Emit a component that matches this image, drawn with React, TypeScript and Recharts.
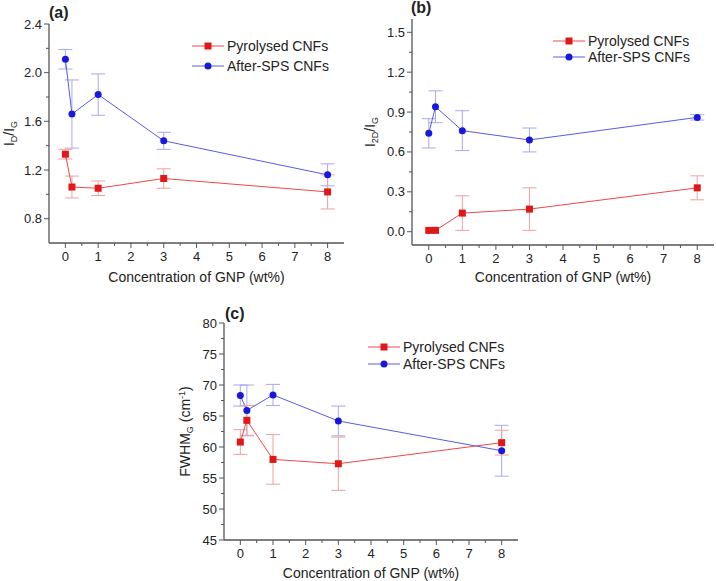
import React from 'react';
import { LineChart, Line, XAxis, YAxis, ErrorBar, Legend } from 'recharts';

const gnp = [0, 0.2, 1, 3, 8];

// (a) ID/IG
const idPyro = [1.33, 1.06, 1.05, 1.13, 1.02];
const idPyroErr = [0.04, 0.09, 0.06, 0.08, 0.14];
const idSps = [2.11, 1.66, 1.82, 1.44, 1.16];
const idSpsErr = [0.08, 0.28, 0.17, 0.07, 0.09];

// (b) I2D/IG
const i2dPyro = [0.01, 0.01, 0.14, 0.17, 0.33];
const i2dPyroErr = [0, 0, 0.13, 0.16, 0.09];
const i2dSps = [0.74, 0.94, 0.76, 0.69, 0.86];
const i2dSpsErr = [0.11, 0.12, 0.15, 0.09, 0.02];

// (c) FWHM of G band
const fwhmPyro = [60.8, 64.3, 58.0, 57.3, 60.7];
const fwhmPyroErr = [2.0, 2.4, 4.0, 4.3, 2.0];
const fwhmSps = [68.3, 65.9, 68.4, 64.2, 59.4];
const fwhmSpsErr = [1.7, 4.1, 1.7, 2.4, 4.1];

const xTicks = [0, 0.5, 1, 1.5, 2, 2.5, 3, 3.5, 4, 4.5, 5, 5.5, 6, 6.5, 7, 7.5, 8];
const xMajor = [0, 1, 2, 3, 4, 5, 6, 7, 8];

const yTicksA = [0.8, 1.0, 1.2, 1.4, 1.6, 1.8, 2.0, 2.2, 2.4];
const yMajorA = [0.8, 1.2, 1.6, 2.0, 2.4];
const yTicksB = [0, 0.15, 0.3, 0.45, 0.6, 0.75, 0.9, 1.05, 1.2, 1.35, 1.5];
const yMajorB = [0, 0.3, 0.6, 0.9, 1.2, 1.5];
const yTicksC = [45, 47.5, 50, 52.5, 55, 57.5, 60, 62.5, 65, 67.5, 70, 72.5, 75, 77.5, 80];
const yMajorC = [45, 50, 55, 60, 65, 70, 75, 80];

const PYRO = 'Pyrolysed CNFs';
const SPS = 'After-SPS CNFs';

const FONT = '"Liberation Sans", Arial, sans-serif';
const INK = '#222';
const AXIS = '#555';
const RED_LINE = '#f04848';
const RED_DOT = '#e01818';
const RED_ERR = '#f2a0a0';
const BLUE_LINE = '#5a5ae6';
const BLUE_DOT = '#1818dc';
const BLUE_ERR = '#a8a8ee';

const makeRows = (p: number[], pe: number[], s: number[], se: number[]) =>
  gnp.map((x, i) => ({ x, pyro: p[i], pyroErr: pe[i], sps: s[i], spsErr: se[i] }));

const rowsA = makeRows(idPyro, idPyroErr, idSps, idSpsErr);
const rowsB = makeRows(i2dPyro, i2dPyroErr, i2dSps, i2dSpsErr);
const rowsC = makeRows(fwhmPyro, fwhmPyroErr, fwhmSps, fwhmSpsErr);

const SquareDot = (props: any) => {
  const { cx, cy } = props;
  if (cx == null || cy == null) return null;
  return <rect x={cx - 3.5} y={cy - 3.5} width={7} height={7} fill={RED_DOT} />;
};

const XTick = (props: any) => {
  const { x, y, payload } = props;
  const major = xMajor.includes(payload.value);
  return (
    <g>
      <line x1={x} x2={x} y1={y} y2={y + (major ? 5 : 3)} stroke={AXIS} />
      {major && (
        <text x={x} y={y + 18} textAnchor="middle" fontSize={13} fill={INK} fontFamily={FONT}>
          {payload.value}
        </text>
      )}
    </g>
  );
};

const makeYTick = (majors: number[], digits: number) => (props: any) => {
  const { x, y, payload } = props;
  const major = majors.includes(payload.value);
  return (
    <g>
      <line x1={x} x2={x - (major ? 5 : 3)} y1={y} y2={y} stroke={AXIS} />
      {major && (
        <text x={x - 7} y={y + 4.5} textAnchor="end" fontSize={13} fill={INK} fontFamily={FONT}>
          {payload.value.toFixed(digits)}
        </text>
      )}
    </g>
  );
};

const XTitle = (props: any) => {
  const { viewBox, dy } = props;
  return (
    <text
      x={viewBox.x + viewBox.width / 2}
      y={viewBox.y + dy}
      textAnchor="middle"
      fontSize={14}
      fill={INK}
      fontFamily={FONT}
    >
      Concentration of GNP (wt%)
    </text>
  );
};

const YTitle = (props: any) => {
  const { viewBox, dx, parts } = props;
  const cx = viewBox.x + dx;
  const cy = viewBox.y + viewBox.height / 2;
  return (
    <text
      x={cx}
      y={cy}
      transform={`rotate(-90 ${cx} ${cy})`}
      textAnchor="middle"
      fontSize={14}
      fill={INK}
      fontFamily={FONT}
    >
      {parts.map((p: [string, number], i: number) => (
        <tspan key={i} dy={p[1]} fontSize={p[1] !== 0 && i % 2 === 1 ? 9 : 14}>
          {p[0]}
        </tspan>
      ))}
    </text>
  );
};

const makeLegend = (rowH: number) => (props: any) => {
  const items = [...(props.payload || [])].sort((a: any, b: any) =>
    a.value === PYRO ? -1 : b.value === PYRO ? 1 : 0
  );
  return (
    <div style={{ fontFamily: FONT, fontSize: 14, color: INK }}>
      {items.map((item: any) => {
        const isPyro = item.value === PYRO;
        return (
          <div key={item.value} style={{ display: 'flex', alignItems: 'center', height: rowH }}>
            <svg width={32} height={10} style={{ marginRight: 3 }}>
              <line x1={0} x2={32} y1={5} y2={5} stroke={item.color} />
              {isPyro ? (
                <rect x={12.5} y={1.5} width={7} height={7} fill={RED_DOT} />
              ) : (
                <circle cx={16} cy={5} r={3.5} fill={BLUE_DOT} />
              )}
            </svg>
            <span style={{ whiteSpace: 'nowrap' }}>{item.value}</span>
          </div>
        );
      })}
    </div>
  );
};

type PanelProps = {
  rows: any[];
  left: number;
  top: number;
  width: number;
  height: number;
  margin: { top: number; right: number; left: number; bottom: number };
  yWidth: number;
  xHeight: number;
  yDomain: [number, number];
  yTicks: number[];
  yMajor: number[];
  yDigits: number;
  yParts: [string, number][];
  yTitleDx: number;
  xTitleDy: number;
  legendLeft: number;
  legendTop: number;
  legendRow: number;
  tag: string;
  tagLeft: number;
  tagTop: number;
};

function Panel(p: PanelProps) {
  return (
    <div style={{ position: 'absolute', left: p.left, top: p.top, width: p.width, height: p.height }}>
      <LineChart width={p.width} height={p.height} data={p.rows} margin={p.margin}>
        <XAxis
          dataKey="x"
          type="number"
          domain={[-0.5, 8.5]}
          ticks={xTicks}
          interval={0}
          height={p.xHeight}
          tickSize={0}
          tickMargin={0}
          tickLine={false}
          axisLine={{ stroke: AXIS, strokeWidth: 1.3 }}
          tick={<XTick />}
          label={<XTitle dy={p.xTitleDy} />}
        />
        <XAxis
          xAxisId="top"
          dataKey="x"
          type="number"
          orientation="top"
          domain={[-0.5, 8.5]}
          height={0}
          tick={false}
          tickLine={false}
          axisLine={{ stroke: AXIS, strokeWidth: 1.3 }}
        />
        <YAxis
          type="number"
          domain={p.yDomain}
          ticks={p.yTicks}
          interval={0}
          width={p.yWidth}
          tickSize={0}
          tickMargin={0}
          tickLine={false}
          axisLine={{ stroke: AXIS, strokeWidth: 1.3 }}
          tick={makeYTick(p.yMajor, p.yDigits)}
          label={<YTitle dx={p.yTitleDx} parts={p.yParts} />}
        />
        <YAxis
          yAxisId="right"
          orientation="right"
          type="number"
          domain={p.yDomain}
          width={0}
          tick={false}
          tickLine={false}
          axisLine={{ stroke: AXIS, strokeWidth: 1.3 }}
        />
        <Legend
          layout="vertical"
          align="center"
          verticalAlign="middle"
          content={makeLegend(p.legendRow)}
          wrapperStyle={{ left: p.legendLeft, top: p.legendTop, width: 'auto', height: 'auto' }}
        />
        <Line
          name={SPS}
          dataKey="sps"
          stroke={BLUE_LINE}
          strokeWidth={1}
          dot={{ r: 3.5, fill: BLUE_DOT, stroke: BLUE_DOT, strokeWidth: 0 }}
          activeDot={false}
          isAnimationActive={false}
          legendType="circle"
        >
          <ErrorBar dataKey="spsErr" direction="y" width={7} stroke={BLUE_ERR} strokeWidth={1} />
        </Line>
        <Line
          name={PYRO}
          dataKey="pyro"
          stroke={RED_LINE}
          strokeWidth={1}
          dot={<SquareDot />}
          activeDot={false}
          isAnimationActive={false}
          legendType="square"
        >
          <ErrorBar dataKey="pyroErr" direction="y" width={7} stroke={RED_ERR} strokeWidth={1} />
        </Line>
      </LineChart>
      <div
        style={{
          position: 'absolute',
          left: p.tagLeft,
          top: p.tagTop,
          fontFamily: FONT,
          fontWeight: 'bold',
          fontSize: 16,
          lineHeight: 1,
          color: INK,
        }}
      >
        {p.tag}
      </div>
    </div>
  );
}

export default function App() {
  return (
    <div style={{ position: 'absolute', left: 0, top: 0, width: 716, height: 581, background: '#fff' }}>
      <Panel
        rows={rowsA}
        left={0}
        top={0}
        width={360}
        height={290}
        margin={{ top: 24, right: 16, left: 0, bottom: 0 }}
        yWidth={49}
        xHeight={47}
        yDomain={[0.6, 2.4]}
        yTicks={yTicksA}
        yMajor={yMajorA}
        yDigits={1}
        yParts={[['I', 0], ['D', 3], ['/I', -3], ['G', 3]]}
        yTitleDx={14}
        xTitleDy={39}
        legendLeft={192}
        legendTop={36}
        legendRow={20}
        tag="(a)"
        tagLeft={49}
        tagTop={5}
      />
      <Panel
        rows={rowsB}
        left={356}
        top={0}
        width={360}
        height={290}
        margin={{ top: 19, right: 2, left: 0, bottom: 0 }}
        yWidth={56}
        xHeight={45}
        yDomain={[-0.1, 1.6]}
        yTicks={yTicksB}
        yMajor={yMajorB}
        yDigits={1}
        yParts={[['I', 0], ['2D', 3], ['/I', -3], ['G', 3]]}
        yTitleDx={19}
        xTitleDy={37}
        legendLeft={197}
        legendTop={33}
        legendRow={16}
        tag="(b)"
        tagLeft={55}
        tagTop={0}
      />
      <Panel
        rows={rowsC}
        left={170}
        top={290}
        width={380}
        height={291}
        margin={{ top: 33, right: 32, left: 0, bottom: 0 }}
        yWidth={54}
        xHeight={41}
        yDomain={[45, 80]}
        yTicks={yTicksC}
        yMajor={yMajorC}
        yDigits={0}
        yParts={[['FWHM', 0], ['G', 3], [' (cm', -3], ['-1', -5], [')', 5]]}
        yTitleDx={20}
        xTitleDy={38}
        legendLeft={198}
        legendTop={48}
        legendRow={17}
        tag="(c)"
        tagLeft={55}
        tagTop={16}
      />
    </div>
  );
}
